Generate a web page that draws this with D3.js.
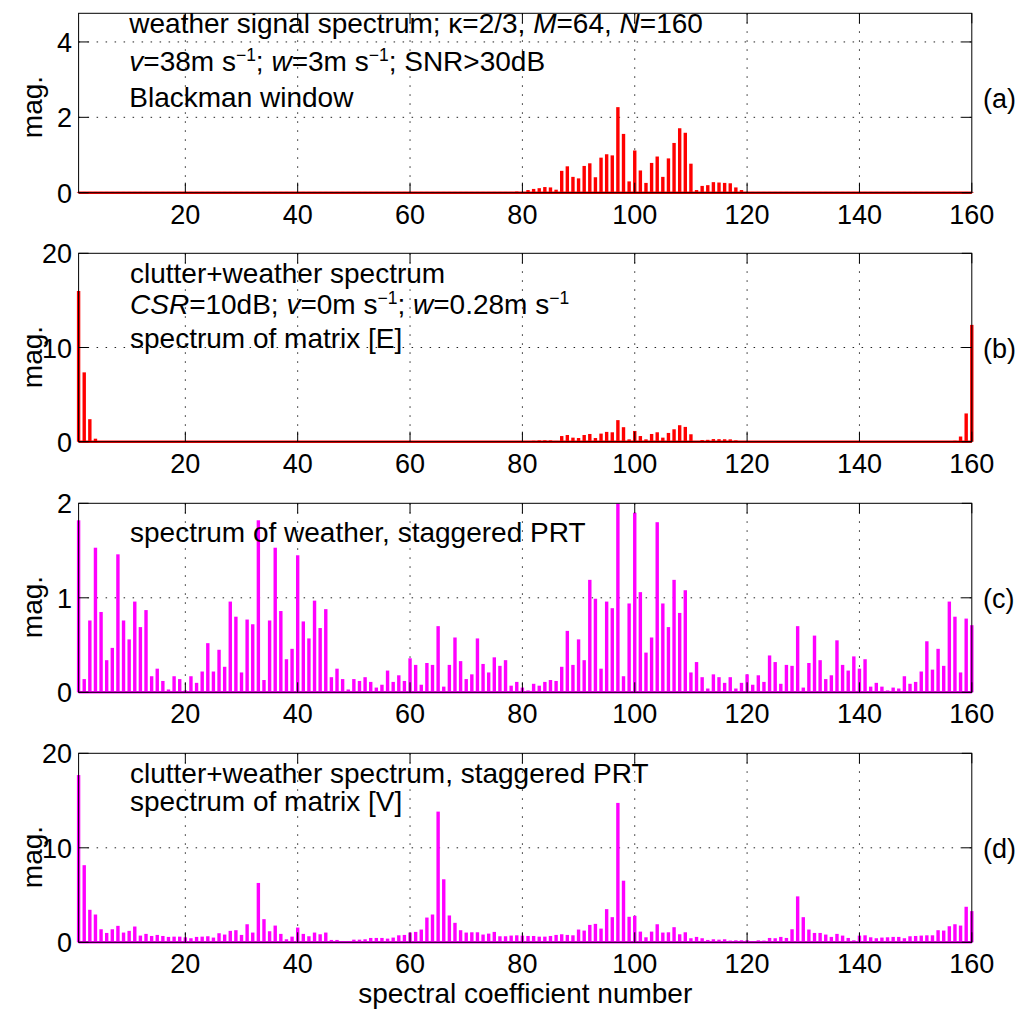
<!DOCTYPE html>
<html><head><meta charset="utf-8">
<script src="https://cdn.jsdelivr.net/npm/d3@7"></script>
<style>
body{margin:0;background:#fff;}
svg text{font-family:"Liberation Sans",Arial,Helvetica,sans-serif;fill:#000;white-space:pre;}
</style></head><body>
<svg id="chart" width="1022" height="1015"></svg>
<script>
// spectral coefficient numbers 1..160
const coef = d3.range(1, 161);
const xTicks = [20, 40, 60, 80, 100, 120, 140, 160];

// (a) weather signal spectrum (Blackman window)
const specA = [
0.02,0.02,0.02,0.02,0.02,0.02,0.02,0.02,0.02,0.02,
0.02,0.02,0.02,0.02,0.02,0.02,0.02,0.02,0.02,0.02,
0.02,0.02,0.02,0.02,0.02,0.02,0.02,0.02,0.02,0.02,
0.02,0.02,0.02,0.02,0.02,0.02,0.02,0.02,0.02,0.02,
0.02,0.02,0.02,0.02,0.02,0.02,0.02,0.02,0.02,0.02,
0.02,0.02,0.02,0.02,0.02,0.02,0.02,0.02,0.02,0.02,
0.02,0.02,0.02,0.02,0.02,0.02,0.02,0.02,0.02,0.02,
0.02,0.02,0.02,0.02,0.02,0.02,0.02,0.02,0.03,0.02,
0.07,0.10,0.12,0.15,0.14,0.08,0.58,0.70,0.42,0.38,
0.71,0.78,0.41,0.93,1.02,0.99,2.27,1.56,0.30,1.12,
0.59,0.26,0.79,0.96,0.42,0.91,1.32,1.71,1.59,0.77,
0.07,0.18,0.20,0.28,0.27,0.26,0.25,0.14,0.07,0.02,
0.02,0.02,0.02,0.02,0.02,0.02,0.02,0.02,0.02,0.02,
0.02,0.02,0.02,0.02,0.02,0.02,0.02,0.02,0.02,0.02,
0.02,0.02,0.02,0.02,0.02,0.02,0.02,0.02,0.02,0.02,
0.02,0.02,0.02,0.02,0.02,0.02,0.02,0.02,0.02,0.02
];

// (b) clutter + weather spectrum, matrix [E]
const specB = [
16.0,7.36,2.39,0.32,0.05,0.05,0.05,0.05,0.05,0.05,
0.05,0.05,0.05,0.05,0.05,0.05,0.05,0.05,0.05,0.05,
0.05,0.05,0.05,0.05,0.05,0.05,0.05,0.05,0.05,0.05,
0.05,0.05,0.05,0.05,0.05,0.05,0.05,0.05,0.05,0.05,
0.05,0.05,0.05,0.05,0.05,0.05,0.05,0.05,0.05,0.05,
0.05,0.05,0.05,0.05,0.05,0.05,0.05,0.05,0.05,0.05,
0.05,0.05,0.05,0.05,0.05,0.05,0.05,0.05,0.05,0.05,
0.05,0.05,0.05,0.05,0.05,0.05,0.05,0.05,0.05,0.05,
0.07,0.10,0.14,0.15,0.14,0.08,0.60,0.71,0.43,0.39,
0.71,0.82,0.39,0.86,1.04,1.00,2.29,1.54,0.25,1.14,
0.60,0.25,0.82,1.00,0.43,0.93,1.32,1.75,1.57,0.79,
0.07,0.18,0.20,0.28,0.27,0.26,0.25,0.14,0.07,0.05,
0.05,0.05,0.05,0.05,0.05,0.05,0.05,0.05,0.05,0.05,
0.05,0.05,0.05,0.05,0.05,0.05,0.05,0.05,0.05,0.05,
0.05,0.05,0.05,0.05,0.05,0.05,0.05,0.05,0.05,0.05,
0.05,0.05,0.05,0.05,0.05,0.05,0.10,0.55,3.00,12.4
];

// (c) spectrum of weather, staggered PRT
const specC = [
1.82,0.14,0.76,1.53,0.85,0.34,0.47,1.46,0.76,0.56,
0.96,0.69,0.87,0.17,0.25,0.12,0.03,0.17,0.14,0.02,
0.17,0.10,0.22,0.52,0.22,0.45,0.27,0.96,0.80,0.21,
0.77,0.72,1.82,0.13,0.76,1.53,0.86,0.35,0.46,1.45,
0.75,0.57,0.97,0.68,0.88,0.16,0.25,0.14,0.03,0.14,
0.12,0.16,0.11,0.05,0.08,0.23,0.11,0.18,0.12,0.36,
0.29,0.08,0.31,0.29,0.70,0.06,0.29,0.58,0.33,0.14,
0.19,0.57,0.30,0.21,0.37,0.28,0.34,0.07,0.11,0.05,
0.02,0.09,0.07,0.11,0.13,0.12,0.27,0.65,0.29,0.56,
0.34,1.19,0.99,0.25,0.96,0.89,2.00,0.17,0.94,1.90,
1.06,0.42,0.58,1.80,0.94,0.69,1.19,0.84,1.08,0.21,
0.32,0.16,0.04,0.19,0.16,0.10,0.16,0.04,0.10,0.19,
0.08,0.18,0.11,0.39,0.32,0.09,0.29,0.28,0.70,0.05,
0.31,0.60,0.34,0.14,0.18,0.55,0.29,0.23,0.38,0.25,
0.35,0.06,0.10,0.06,0.02,0.05,0.04,0.17,0.09,0.11,
0.22,0.54,0.24,0.46,0.28,0.96,0.80,0.21,0.78,0.71
];

// (d) clutter + weather spectrum, staggered PRT, matrix [V]
const specD = [
17.7,8.16,3.44,2.94,1.38,0.99,1.38,1.74,1.03,1.21,
1.67,0.71,0.89,0.67,0.78,0.67,0.57,0.60,0.60,0.53,
0.43,0.57,0.60,0.64,0.50,0.96,0.82,1.21,1.28,0.78,
1.91,1.03,6.28,2.45,1.17,1.77,0.89,0.32,0.60,1.56,
0.89,0.64,1.03,0.85,1.03,0.25,0.25,0.14,0.14,0.28,
0.28,0.32,0.46,0.46,0.46,0.39,0.50,0.74,0.78,1.03,
1.10,1.35,2.62,2.94,13.83,6.67,2.84,2.06,1.28,1.03,
1.06,1.06,0.82,0.92,1.10,0.64,0.64,0.71,0.74,0.71,
0.67,0.67,0.60,0.60,0.67,0.78,0.85,0.78,0.74,1.35,
1.24,1.84,1.95,1.45,3.51,2.66,14.75,6.52,2.70,2.80,
1.13,0.53,1.13,1.91,1.03,1.06,1.60,0.85,1.06,0.43,
0.57,0.43,0.25,0.32,0.28,0.32,0.18,0.21,0.21,0.21,
0.14,0.21,0.18,0.46,0.43,0.57,0.46,1.38,4.86,2.66,
1.35,0.99,0.99,0.82,0.57,0.89,0.71,0.46,0.21,0.71,
0.74,0.53,0.43,0.50,0.53,0.57,0.57,0.43,0.64,0.67,
0.71,0.74,0.74,1.28,1.24,1.70,1.91,1.77,3.76,3.30
];

const yTicksA = [0, 2, 4];
const yTicksB = [0, 10, 20];
const yTicksC = [0, 1, 2];
const yTicksD = [0, 10, 20];

const panelTags = ["(a)", "(b)", "(c)", "(d)"];
const annotA = [
  [["weather signal spectrum; κ=2/3, "], ["M", "i"], ["=64, "], ["N", "i"], ["=160"]],
  [["v", "i"], ["=38m s"], ["−1", "sup"], ["; "], ["w", "i"], ["=3m s"], ["−1", "sup"], ["; SNR>30dB"]],
  [["Blackman window"]]
];
const annotB = [
  [["clutter+weather spectrum"]],
  [["CSR", "i"], ["=10dB; "], ["v", "i"], ["=0m s"], ["−1", "sup"], ["; "], ["w", "i"], ["=0.28m s"], ["−1", "sup"]],
  [["spectrum of matrix [E]"]]
];
const annotC = [[["spectrum of weather, staggered PRT"]]];
const annotD = [[["clutter+weather spectrum, staggered PRT"]], [["spectrum of matrix [V]"]]];
const xLabel = "spectral coefficient number";
const yLabel = "mag.";

// ---------- layout ----------
const X0 = 78.6, X1 = 971.8;
const x = d3.scaleLinear().domain([1, 160]).range([X0, X1]);
const panels = [
  {data: specA, color: "#ff0000", ymax: 4.76, yt: yTicksA, top: 13.3, bot: 192.7, lines: annotA, base: [33.3, 71, 107.3], lx: 129.3, off: 0},
  {data: specB, color: "#ff0000", ymax: 20, yt: yTicksB, top: 253.3, bot: 441.7, lines: annotB, base: [282.7, 314, 348.3], lx: 130, off: 250},
  {data: specC, color: "#ff00ff", ymax: 2, yt: yTicksC, top: 503.3, bot: 692.3, lines: annotC, base: [541.7], lx: 130, off: 500},
  {data: specD, color: "#ff00ff", ymax: 20, yt: yTicksD, top: 753.3, bot: 942.3, lines: annotD, base: [782.7, 810.7], lx: 130, off: 750}
];

const svg = d3.select("#chart");
const defs = svg.append("defs");

panels.forEach((p, k) => {
  const y = d3.scaleLinear().domain([0, p.ymax]).range([p.bot, p.top]);
  const g = svg.append("g");
  const clipId = "clip" + k;
  defs.append("clipPath").attr("id", clipId).append("rect")
    .attr("x", X0 - 3).attr("y", p.top).attr("width", X1 - X0 + 6).attr("height", p.bot - p.top + 3);

  // grid
  const grid = g.append("g").attr("stroke", "#222").attr("stroke-width", 1).attr("stroke-dasharray", "1.5,7.5");
  xTicks.filter(t => t < 160).forEach(t => {
    grid.append("line").attr("x1", x(t)).attr("x2", x(t)).attr("y1", p.top).attr("y2", p.bot);
  });
  p.yt.filter(t => t > 0 && t < p.ymax).forEach(t => {
    grid.append("line").attr("x1", X0).attr("x2", X1).attr("y1", y(t)).attr("y2", y(t));
  });

  // bars
  const bars = g.append("g").attr("clip-path", `url(#${clipId})`);
  bars.selectAll("rect").data(coef).join("rect")
    .attr("x", d => x(d) - 1.7)
    .attr("width", 3.4)
    .attr("y", d => y(p.data[d - 1]))
    .attr("height", d => y(0) - y(p.data[d - 1]))
    .attr("fill", p.color);
  bars.append("line").attr("x1", X0).attr("x2", X1).attr("y1", y(0)).attr("y2", y(0))
    .attr("stroke", p.color).attr("stroke-width", 2.5);

  // box
  g.append("rect").attr("x", X0).attr("y", p.top).attr("width", X1 - X0).attr("height", p.bot - p.top)
    .attr("fill", "none").attr("stroke", "#000").attr("stroke-width", 1);

  // ticks
  const tk = g.append("g").attr("stroke", "#000").attr("stroke-width", 1);
  xTicks.forEach(t => {
    tk.append("line").attr("x1", x(t)).attr("x2", x(t)).attr("y1", p.bot).attr("y2", p.bot - 10);
    tk.append("line").attr("x1", x(t)).attr("x2", x(t)).attr("y1", p.top).attr("y2", p.top + 10);
    g.append("text").attr("x", x(t)).attr("y", p.bot + 31).attr("text-anchor", "middle")
      .attr("font-size", 27).text(t);
  });
  p.yt.forEach(t => {
    tk.append("line").attr("x1", X0).attr("x2", X0 + 10).attr("y1", y(t)).attr("y2", y(t));
    tk.append("line").attr("x1", X1).attr("x2", X1 - 10).attr("y1", y(t)).attr("y2", y(t));
    g.append("text").attr("x", 72).attr("y", y(t) + 10).attr("text-anchor", "end")
      .attr("font-size", 27).text(t);
  });

  // y label
  g.append("text").attr("transform", `translate(42,${107 + p.off}) rotate(-90)`)
    .attr("text-anchor", "middle").attr("font-size", 28).text(yLabel);

  // panel tag
  g.append("text").attr("x", 983).attr("y", 107.7 + p.off).attr("font-size", 27).text(panelTags[k]);

  // annotations
  p.lines.forEach((line, li) => {
    const t = g.append("text").attr("x", p.lx).attr("y", p.base[li]).attr("font-size", 28);
    let cur = 0;
    line.forEach(seg => {
      const target = seg[1] === "sup" ? -10 : 0;
      const ts = t.append("tspan").attr("dy", target - cur).text(seg[0]);
      cur = target;
      if (seg[1] === "i") ts.attr("font-style", "italic");
      if (seg[1] === "sup") ts.attr("font-size", 17.5);
    });
  });
});

svg.append("text").attr("x", (X0 + X1) / 2).attr("y", 1003.3).attr("text-anchor", "middle")
  .attr("font-size", 28).text(xLabel);
</script>
</body></html>
